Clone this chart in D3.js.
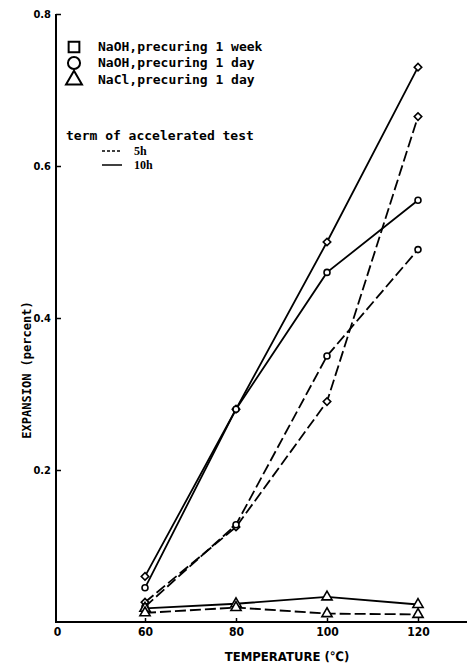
<!DOCTYPE html>
<html>
<head>
<meta charset="utf-8">
<script src="https://cdn.jsdelivr.net/npm/d3@7"></script>
<style>
  body { margin: 0; background: #fff; }
  .tick text { font-family: "Liberation Sans Narrow", "DejaVu Sans Condensed", sans-serif; font-weight: bold; font-size: 11px; fill: #000; }
  .lab { font-family: "DejaVu Sans Mono", monospace; font-weight: bold; font-size: 13px; fill: #000; }
</style>
</head>
<body>
<div id="chart"></div>
<script>
// chart values
var temps = [60, 80, 100, 120];
var xTickValues = [40, 60, 80, 100, 120];
var xTickLabels = ["0", "60", "80", "100", "120"];
var yTickValues = [0.2, 0.4, 0.6, 0.8];

var weekLong = [0.06, 0.28, 0.50, 0.73];    // NaOH, 1 week, 10h
var dayLong = [0.045, 0.28, 0.46, 0.555];   // NaOH, 1 day, 10h
var weekShort = [0.026, 0.125, 0.29, 0.665]; // NaOH, 1 week, 5h
var dayShort = [0.02, 0.128, 0.35, 0.49];   // NaOH, 1 day, 5h
var naclLong = [0.018, 0.024, 0.033, 0.023]; // NaCl, 1 day, 10h
var naclShort = [0.012, 0.019, 0.011, 0.01]; // NaCl, 1 day, 5h

var legendNames = ["NaOH,precuring 1 week", "NaOH,precuring 1 day", "NaCl,precuring 1 day"];
var legendShapes = ["square", "circle", "triangle"];

var svgWidth = 467;
var svgHeight = 669;

var svg = d3.select("#chart")
  .append("svg")
  .attr("width", svgWidth)
  .attr("height", svgHeight);

var x = d3.scaleLinear().domain([40, 120]).range([54, 418]);
var y = d3.scaleLinear().domain([0, 0.8]).range([622, 14]);
var axisX = 56;

// axes
svg.append("line")
  .attr("x1", axisX).attr("x2", 467)
  .attr("y1", y(0)).attr("y2", y(0))
  .attr("stroke", "#000").attr("stroke-width", 2);
svg.append("line")
  .attr("x1", axisX).attr("x2", axisX)
  .attr("y1", y(0) + 1).attr("y2", y(0.8))
  .attr("stroke", "#000").attr("stroke-width", 2);

var xAxis = d3.axisBottom(x)
  .tickValues(xTickValues)
  .tickFormat(function(d, i) { return xTickLabels[i]; })
  .tickSizeInner(-4)
  .tickSizeOuter(0)
  .tickPadding(5);

var gx = svg.append("g")
  .attr("transform", `translate(0, ${y(0)})`)
  .call(xAxis);
gx.select(".domain").remove();
gx.selectAll(".tick line").attr("stroke-width", 1.5)
  .filter(function(d) { return d === 40; }).remove();
gx.selectAll(".tick").filter(function(d) { return d === 40; })
  .select("text").attr("dx", 3);
gx.selectAll(".tick text").style("font-size", "12px");

var yAxis = d3.axisLeft(y)
  .tickValues(yTickValues)
  .tickFormat(d3.format(".1f"))
  .tickSizeInner(-5)
  .tickSizeOuter(0)
  .tickPadding(5);

var gy = svg.append("g")
  .attr("transform", `translate(${axisX}, 0)`)
  .call(yAxis);
gy.select(".domain").remove();
gy.selectAll(".tick line").attr("stroke-width", 1.5);

// axis titles
svg.append("text")
  .attr("class", "lab")
  .attr("transform", "translate(27, 370) rotate(-90)")
  .attr("text-anchor", "middle")
  .attr("dominant-baseline", "middle")
  .style("font-size", "12px")
  .text("EXPANSION  (percent)");

svg.append("text")
  .attr("class", "lab")
  .attr("x", 287).attr("y", 657)
  .attr("text-anchor", "middle")
  .attr("dominant-baseline", "middle")
  .style("font-family", "'DejaVu Sans Condensed', sans-serif")
  .style("font-size", "13px")
  .text("TEMPERATURE  (\u2103)");

// series
var series = [
  { values: weekLong, shape: "diamond", dash: null },
  { values: dayLong, shape: "circle", dash: null },
  { values: weekShort, shape: "diamond", dash: "11,4" },
  { values: dayShort, shape: "circle", dash: "11,4" },
  { values: naclLong, shape: "triangle", dash: null },
  { values: naclShort, shape: "triangle", dash: "11,4" }
];

var line = d3.line()
  .x(function(d, i) { return x(temps[i]); })
  .y(function(d) { return y(d); });

series.forEach(function(s) {
  svg.append("path")
    .attr("d", line(s.values))
    .attr("fill", "none")
    .attr("stroke", "#000")
    .attr("stroke-width", 1.8)
    .attr("stroke-dasharray", s.dash);
});

var symbolTypes = {
  square: d3.symbolSquare,
  diamond: d3.symbolSquare,
  circle: d3.symbolCircle,
  triangle: d3.symbolTriangle
};

series.forEach(function(s) {
  svg.selectAll(null)
    .data(s.values)
    .enter()
    .append("path")
    .attr("d", d3.symbol().type(symbolTypes[s.shape]).size(s.shape === "triangle" ? 45 : 28))
    .attr("transform", function(d, i) {
      var r = s.shape === "diamond" ? " rotate(45)" : "";
      return `translate(${x(temps[i])}, ${y(d)})` + r;
    })
    .attr("fill", "#fff")
    .attr("stroke", "#000")
    .attr("stroke-width", 1.6);
});

// legend
var legendY = [47, 63, 80];
legendNames.forEach(function(name, i) {
  svg.append("path")
    .attr("d", d3.symbol().type(symbolTypes[legendShapes[i]]).size(legendShapes[i] === "triangle" ? 110 : 115))
    .attr("transform", `translate(74, ${legendY[i]})`)
    .attr("fill", "#fff")
    .attr("stroke", "#000")
    .attr("stroke-width", 2);
  svg.append("text")
    .attr("class", "lab")
    .attr("x", 98).attr("y", legendY[i])
    .attr("dominant-baseline", "middle")
    .text(name);
});

svg.append("text")
  .attr("class", "lab")
  .attr("x", 66).attr("y", 136)
  .attr("dominant-baseline", "middle")
  .text("term of accelerated test");

var termNames = ["5h", "10h"];
var termDash = ["3,2", null];
var termY = [151, 165];
termNames.forEach(function(t, i) {
  svg.append("line")
    .attr("x1", 102).attr("x2", 122)
    .attr("y1", termY[i]).attr("y2", termY[i])
    .attr("stroke", "#000")
    .attr("stroke-width", 1.5)
    .attr("stroke-dasharray", termDash[i]);
  svg.append("text")
    .attr("x", 134).attr("y", termY[i] + 4)
    .style("font-family", "'Liberation Serif', serif")
    .style("font-weight", "bold")
    .style("font-size", "12px")
    .text(t);
});
</script>
</body>
</html>
